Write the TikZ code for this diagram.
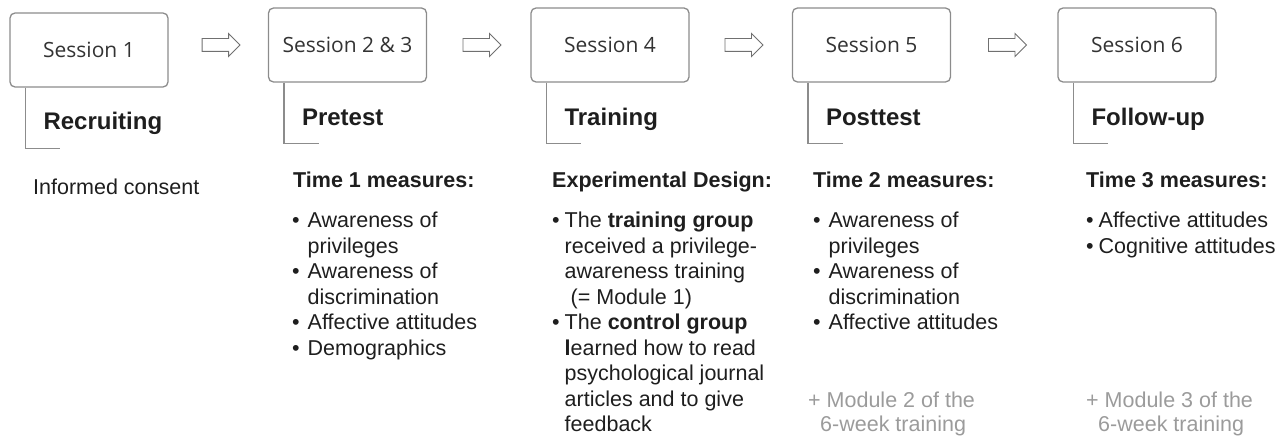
\documentclass[tikz,border=0pt]{standalone}
\usepackage{fontspec}
\setmainfont{Liberation Sans}
\newfontfamily\sessionfont{Open Sans}
\usetikzlibrary{shapes.arrows}
\usetikzlibrary{calc}
\definecolor{framegray}{HTML}{8C8C8C}
\definecolor{arrowgray}{HTML}{707070}
\definecolor{modulegray}{HTML}{9B9B9B}
\definecolor{inkgray}{HTML}{1E1E1E}

\begin{document}
\begin{tikzpicture}
[x=1pt,y=1pt,%
  every node/.style={inner sep=0pt,text=inkgray},%
  session/.style={draw=framegray,line width=1.3pt,rounded corners=5pt,
    minimum width=158pt,minimum height=74pt,text=black!80,
    font=\sessionfont\fontsize{21}{25}\selectfont},%
  phase/.style={anchor=base west,font=\bfseries\fontsize{24}{28}\selectfont},%
  stem/.style={draw=framegray,line width=1.3pt},%
  flow/.style={single arrow,draw=arrowgray,fill=white,line width=0.9pt,
    inner xsep=0pt,inner ysep=6pt,minimum height=38pt,
    single arrow head extend=5pt},%
  heading/.style={anchor=base west,font=\bfseries\fontsize{21.5}{25.5}\selectfont},%
  items/.style={anchor=base west,font=\fontsize{21.5}{25.5}\selectfont},%
  module/.style={anchor=base west,text=modulegray,font=\fontsize{21.5}{24}\selectfont}]
\useasboundingbox (0,0) rectangle (1288,-441);

% sessions
\node[session] (s1) at (89,-50) {Session 1};
\node[session] (s2) at (347.5,-45) {Session 2 \& 3};
\node[session] (s3) at (610,-45) {Session 4};
\node[session] (s4) at (871.5,-45) {Session 5};
\node[session] (s5) at (1137,-45) {Session 6};

\node[flow] (a1) at ($(s2.west)+(-50,0)$) {};
\node[flow] (a2) at ($(s2.east)!0.5!(s3.west)$) {};
\node[flow] (a3) at ($(s3.east)!0.5!(s4.west)$) {};
\node[flow] (a4) at ($(s4.east)!0.5!(s5.west)$) {};

% phases
\draw[stem] ([xshift=16pt]s1.south west) -- ++(0,-61) -- ++(35,0);
\draw[stem] ([xshift=16pt]s2.south west) -- ++(0,-61) -- ++(35,0);
\draw[stem] ([xshift=16pt]s3.south west) -- ++(0,-61) -- ++(35,0);
\draw[stem] ([xshift=16pt]s4.south west) -- ++(0,-61) -- ++(35,0);
\draw[stem] ([xshift=16pt]s5.south west) -- ++(0,-61) -- ++(35,0);
\node[phase] (p1) at ($(s1.south west)+(34,-42)$) {Recruiting};
\node[phase] (p2) at ($(s2.south west)+(34,-43)$) {Pretest};
\node[phase] (p3) at ($(s3.south west)+(34,-43)$) {Training};
\node[phase] (p4) at ($(s4.south west)+(34,-43)$) {Posttest};
\node[phase] (p5) at ($(s5.south west)+(34,-43)$) {Follow-up};

% contents
\node[items] (c1) at (33,-194) {Informed consent};

\node[heading] (h2) at (293,-187.5) {Time 1 measures:};
\node[items] (m2) at (292,-227.5) {\begin{tabular}[t]{@{}l@{\hspace{8pt}}l@{}}
  \textbullet & Awareness of\\
              & privileges\\
  \textbullet & Awareness of\\
              & discrimination\\
  \textbullet & Affective attitudes\\
  \textbullet & Demographics
\end{tabular}};

\node[heading] (h3) at (552,-187.5) {Experimental Design:};
\node[items] (m3) at (552,-227.5) {\begin{tabular}[t]{@{}l@{\hspace{5pt}}l@{}}
  \textbullet & The \textbf{training group}\\
              & received a privilege-\\
              & awareness training\\
              & \ (= Module 1)\\
  \textbullet & The \textbf{control group}\\
              & \textbf{l}earned how to read\\
              & psychological journal\\
              & articles and to give\\
              & feedback
\end{tabular}};

\node[heading] (h4) at (813,-187.5) {Time 2 measures:};
\node[items] (m4) at (813,-227.5) {\begin{tabular}[t]{@{}l@{\hspace{8pt}}l@{}}
  \textbullet & Awareness of\\
              & privileges\\
  \textbullet & Awareness of\\
              & discrimination\\
  \textbullet & Affective attitudes
\end{tabular}};
\node[module] (g4) at (808,-407.5) {\begin{tabular}[t]{@{}l@{}}
  + Module 2 of the\\
  \hspace{12pt}6-week training
\end{tabular}};

\node[heading] (h5) at (1086,-187.5) {Time 3 measures:};
\node[items] (m5) at (1086,-227.5) {\begin{tabular}[t]{@{}l@{\hspace{5pt}}l@{}}
  \textbullet & Affective attitudes\\
  \textbullet & Cognitive attitudes
\end{tabular}};
\node[module] (g5) at (1086,-407.5) {\begin{tabular}[t]{@{}l@{}}
  + Module 3 of the\\
  \hspace{12pt}6-week training
\end{tabular}};
\end{tikzpicture}
\end{document}
